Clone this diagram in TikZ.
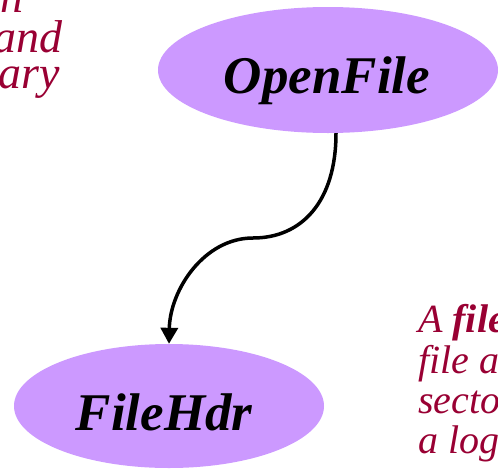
\documentclass[tikz,border=0pt]{standalone}
\usepackage{fontspec}
\setmainfont{Liberation Serif}
\usetikzlibrary{shapes.geometric,arrows.meta}
\definecolor{lav}{RGB}{204,153,255}
\definecolor{maroon}{RGB}{153,0,51}
\tikzset{
  oval/.style={ellipse, fill=lav, draw=none, inner sep=0pt},
  ovaltext/.style={anchor=base, inner sep=0pt, font=\fontsize{53}{53}\selectfont\bfseries\itshape, text=black},
  para/.style={inner sep=0pt, font=\fontsize{40}{40}\selectfont\itshape, text=maroon},
  bigpara/.style={inner sep=0pt, font=\fontsize{46}{46}\selectfont\itshape, text=maroon},
  flow/.style={line width=3.5pt, -{Triangle[width=17pt,length=16pt]}}
}
\begin{document}
\begin{tikzpicture}[x=1pt,y=-1pt]
\useasboundingbox (0,0) rectangle (498,469);
\clip (0,0) rectangle (498,469);
% ellipses
\node[oval, minimum width=340pt, minimum height=126pt] (open) at (328,70) {};
\node[oval, minimum width=310pt, minimum height=124pt] (hdr) at (169,406) {};
\node[ovaltext] (openT) at (327,93) {OpenFile};
\node[ovaltext] (hdrT) at (164,430) {FileHdr};
% connector
\coordinate (mid) at (253,238);
\draw[flow] ([xshift=8pt]open.south) .. controls +(0,68) and (302,238) .. (mid)
  .. controls (204,238) and (170,290) .. (hdr.north);
% left paragraph (cut off)
\node[bigpara, anchor=base east] (l1) at (24,12) {n};
\node[bigpara, anchor=base east] (l2) at (63,52) {and};
\node[bigpara, anchor=base east] (l3) at (60,88) {rary};
% right paragraph (cut off)
\node[para, anchor=base west] (r1) at (418,332) {A \textbf{file}};
\node[para, anchor=base west] (r2) at (418,373) {file a};
\node[para, anchor=base west] (r3) at (418,413) {secto};
\node[para, anchor=base west] (r4) at (418,453) {a log};
\end{tikzpicture}
\end{document}
